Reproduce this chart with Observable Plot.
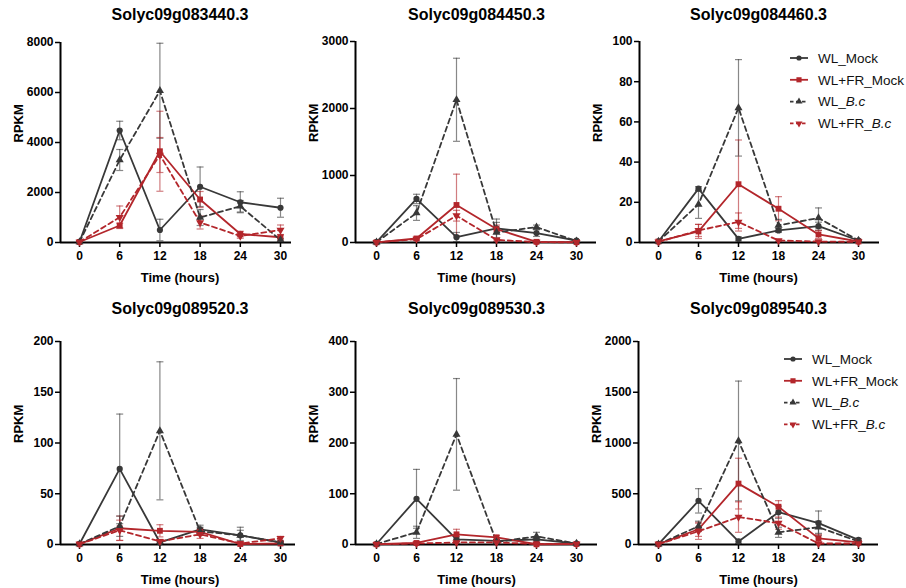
<!DOCTYPE html>
<html><head><meta charset="utf-8">
<script src="https://cdn.jsdelivr.net/npm/d3@7"></script>
<script src="https://cdn.jsdelivr.net/npm/@observablehq/plot@0.6"></script>
<style>
body{margin:0;background:#fff;}
#chart{position:relative;width:906px;height:588px;font-family:"Liberation Sans",Arial,sans-serif;overflow:hidden;}
#chart > svg{position:absolute;}
</style></head><body><div id="chart"></div>
<script>
// ---------- data ----------
const times = [0, 6, 12, 18, 24, 30];
const seriesNames = ["WL_Mock", "WL+FR_Mock", "WL_B.c", "WL+FR_B.c"];
const genes = ["Solyc09g083440.3", "Solyc09g084450.3", "Solyc09g084460.3",
               "Solyc09g089520.3", "Solyc09g089530.3", "Solyc09g089540.3"];
const yMaxes = [8000, 3000, 100, 200, 400, 2000];
const yTicks083440 = [0, 2000, 4000, 6000, 8000];
const yTicks084450 = [0, 1000, 2000, 3000];
const yTicks084460 = [0, 20, 40, 60, 80, 100];
const yTicks089520 = [0, 50, 100, 150, 200];
const yTicks089530 = [0, 100, 200, 300, 400];
const yTicks089540 = [0, 500, 1000, 1500, 2000];

// means: rows = [WL_Mock, WL+FR_Mock, WL_B.c, WL+FR_B.c], columns = times
const mean083440 = [[20, 4480, 500, 2230, 1610, 1390], [20, 680, 3650, 1720, 340, 210], [20, 3300, 6070, 1000, 1450, 100], [20, 1010, 3500, 800, 260, 500]];
const sd083440   = [[10, 370, 430, 790, 420, 380], [10, 90, 1600, 320, 110, 110], [10, 420, 1900, 320, 230, 60], [10, 450, 700, 260, 90, 200]];
const mean084450 = [[5, 650, 80, 210, 140, 30], [3, 60, 560, 200, 10, 5], [5, 440, 2130, 150, 230, 20], [3, 50, 400, 40, 5, 3]];
const sd084450   = [[3, 70, 70, 140, 50, 10], [2, 20, 460, 60, 10, 3], [3, 110, 620, 150, 30, 10], [2, 15, 80, 20, 3, 2]];
const mean084460 = [[0.5, 26.8, 1.8, 6, 8.1, 1], [0.5, 5.5, 29, 16.8, 4, 0.5], [0.5, 19, 67, 8.5, 12.2, 1], [0.3, 6, 10.2, 1, 0.5, 0.3]];
const sd084460   = [[0.3, 1, 1, 1, 2, 0.3], [0.3, 3.5, 22, 6, 2, 0.3], [0.3, 7, 24, 3, 5, 0.3], [0.2, 3, 4.5, 0.5, 0.3, 0.2]];
const mean089520 = [[0.5, 74.5, 2, 15, 9, 2], [0.3, 16, 13.5, 12.5, 0.5, 1], [0.5, 18, 112, 13, 9, 2], [0.3, 14, 3, 10, 1, 6]];
const sd089520   = [[0.3, 54, 1, 4, 8, 1], [0.2, 12, 6, 3, 0.3, 0.5], [0.3, 10, 68, 4, 5, 1], [0.2, 10, 2, 4, 0.5, 2]];
const mean089530 = [[1, 90, 10, 7, 10, 2], [0.5, 3, 20, 14, 0.5, 1], [1, 24, 217, 5, 16, 2], [0.5, 2, 4, 4, 1, 1]];
const sd089530   = [[0.5, 58, 5, 3, 5, 1], [0.3, 2, 10, 4, 0.3, 0.5], [0.5, 12, 110, 3, 8, 1], [0.3, 1, 2, 2, 0.5, 0.5]];
const mean089540 = [[3, 430, 30, 318, 210, 45], [3, 150, 600, 372, 60, 20], [3, 180, 1020, 120, 170, 30], [3, 130, 270, 210, 10, 10]];
const sd089540   = [[2, 120, 20, 60, 120, 15], [2, 70, 250, 60, 40, 10], [2, 50, 590, 50, 60, 10], [2, 80, 150, 60, 5, 5]];

const panelMeans = [mean083440, mean084450, mean084460, mean089520, mean089530, mean089540];
const panelSds = [sd083440, sd084450, sd084460, sd089520, sd089530, sd089540];
const panelTicks = [yTicks083440, yTicks084450, yTicks084460, yTicks089520, yTicks089530, yTicks089540];

// ---------- style / layout ----------
const seriesColors = ["#383838", "#b3262b", "#383838", "#b3262b"];
const dashed = [false, false, true, true];
const FONT = "Liberation Sans, Arial, sans-serif";
// pixel geometry: y-axis x, x(0), x(30), axis end, top of y range, zero line
const geom = [
  {ax: 60,  x0: 79,  x30: 280, end: 291, top: 42,  zero: 242},
  {ax: 355, x0: 376, x30: 576, end: 596, top: 41,  zero: 242},
  {ax: 639, x0: 658, x30: 858, end: 879, top: 41,  zero: 242},
  {ax: 60,  x0: 79,  x30: 280, end: 295, top: 341, zero: 544},
  {ax: 355, x0: 376, x30: 576, end: 597, top: 341, zero: 544},
  {ax: 638, x0: 658, x30: 858, end: 878, top: 341, zero: 544}
];

const capSymbol = {draw(ctx) { ctx.moveTo(-3.5, 0); ctx.lineTo(3.5, 0); }};
const triDown = {draw(ctx, size) {
  const s = Math.sqrt(size * 4 / Math.sqrt(3)); const h = s * Math.sqrt(3) / 2;
  ctx.moveTo(-s / 2, -h / 3); ctx.lineTo(s / 2, -h / 3); ctx.lineTo(0, 2 * h / 3); ctx.closePath();
}};
const symbols = ["circle", "square", "triangle", triDown];
const radii = [3.1, 3.3, 3.0, 3.0];

const chart = document.getElementById("chart");

genes.forEach((gene, i) => {
  const g = geom[i];
  const rowTop = i < 3 ? 0 : 294;
  const H = 294;
  const k = (g.x30 - g.x0) / 30;
  const xmin = (g.ax - g.x0) / k;
  const xmax = 30 + (g.end - g.x30) / k;
  const left = g.ax - 60;
  const W = g.end - left + 12;
  const yMax = yMaxes[i];

  const rows = [];
  seriesNames.forEach((s, si) => {
    times.forEach((t, ti) => {
      const m = panelMeans[i][si][ti], sd = panelSds[i][si][ti];
      rows.push({series: s, si, t, m, lo: Math.max(0, m - sd), hi: Math.min(yMax, m + sd)});
    });
  });
  const caps = rows.flatMap(d => [{...d, y: d.hi}, {...d, y: d.lo}]);

  const marks = [
    // error bars
    Plot.ruleX(rows, {x: "t", y1: "lo", y2: "hi", stroke: "series", strokeOpacity: 0.6, strokeWidth: 1.2}),
    Plot.dot(caps, {x: "t", y: "y", symbol: capSymbol, stroke: "series", strokeOpacity: 0.6, strokeWidth: 1.2, fill: "none"}),
    // axes lines
    Plot.ruleY([0], {stroke: "#000", strokeWidth: 2}),
    Plot.ruleX([xmin], {y1: 0, y2: yMax, stroke: "#000", strokeWidth: 2}),
    Plot.axisY({ticks: panelTicks[i], tickSize: 5, tickPadding: 2, fontWeight: "bold", fontSize: 12, label: null, strokeWidth: 1.5, tickFormat: d => String(d)}),
    Plot.axisX({ticks: times, tickSize: 5, tickPadding: 4, fontWeight: "bold", fontSize: 12, label: null, strokeWidth: 1.5, tickFormat: d => String(d)}),
  ];
  seriesNames.forEach((s, si) => {
    const data = rows.filter(d => d.si === si);
    marks.push(Plot.line(data, {x: "t", y: "m", stroke: seriesColors[si], strokeWidth: 1.8,
      strokeDasharray: dashed[si] ? "5,3.5" : null}));
  });
  seriesNames.forEach((s, si) => {
    const data = rows.filter(d => d.si === si);
    marks.push(Plot.dot(data, {x: "t", y: "m", symbol: symbols[si], r: radii[si], fill: seriesColors[si], stroke: "none"}));
  });
  // labels
  marks.push(Plot.text([gene], {x: 15, frameAnchor: "top", dy: -(g.top - rowTop) + 14, text: d => d,
    fontWeight: "bold", fontSize: 16, fill: "#000", lineAnchor: "middle"}));
  marks.push(Plot.text(["Time (hours)"], {x: 15, frameAnchor: "bottom", dy: 35, text: d => d,
    fontWeight: "bold", fontSize: 13, fill: "#000", lineAnchor: "middle"}));
  marks.push(Plot.text(["RPKM"], {frameAnchor: "left", dx: -42, rotate: -90, text: d => d,
    fontWeight: "bold", fontSize: 13, fill: "#000", lineAnchor: "middle"}));

  const plot = Plot.plot({
    width: W, height: H,
    marginLeft: 60, marginRight: 12,
    marginTop: g.top - rowTop, marginBottom: rowTop + H - g.zero,
    x: {domain: [xmin, xmax]},
    y: {domain: [0, yMax]},
    color: {domain: seriesNames, range: seriesColors},
    style: {fontFamily: FONT, color: "#000", background: "transparent", overflow: "visible"},
    marks
  });
  plot.style.left = left + "px";
  plot.style.top = rowTop + "px";
  chart.appendChild(plot);
});

// ---------- legends (panels 3 and 6) ----------
function legend(x, y) {
  const svg = d3.create("svg").attr("width", 120).attr("height", 92)
    .style("left", x + "px").style("top", y + "px").style("font-family", FONT);
  const gap = 21.8;
  seriesNames.forEach((s, si) => {
    const cy = 10 + si * gap;
    const row = svg.append("g").attr("transform", `translate(0,${cy})`);
    row.append("line").attr("x1", 2).attr("x2", 20).attr("y1", 0).attr("y2", 0)
      .attr("stroke", seriesColors[si]).attr("stroke-width", 1.8)
      .attr("stroke-dasharray", dashed[si] ? "3.5,2.5" : null);
    const sym = si === 3 ? triDown : [d3.symbolCircle, d3.symbolSquare, d3.symbolTriangle][si];
    const r = [2.6, 2.9, 2.6, 2.6][si];
    row.append("path").attr("transform", "translate(11,0)")
      .attr("d", d3.symbol(sym, r * r * Math.PI)()).attr("fill", seriesColors[si]);
    const t = row.append("text").attr("x", 30).attr("y", 0).attr("dy", "0.35em")
      .attr("font-size", 13.5).attr("fill", "#111");
    if (s.endsWith("B.c")) {
      t.append("tspan").text(s.replace("B.c", ""));
      t.append("tspan").attr("font-style", "italic").text("B.c");
    } else t.text(s);
  });
  chart.appendChild(svg.node());
}
legend(788, 48);
legend(782, 349);
</script></body></html>
